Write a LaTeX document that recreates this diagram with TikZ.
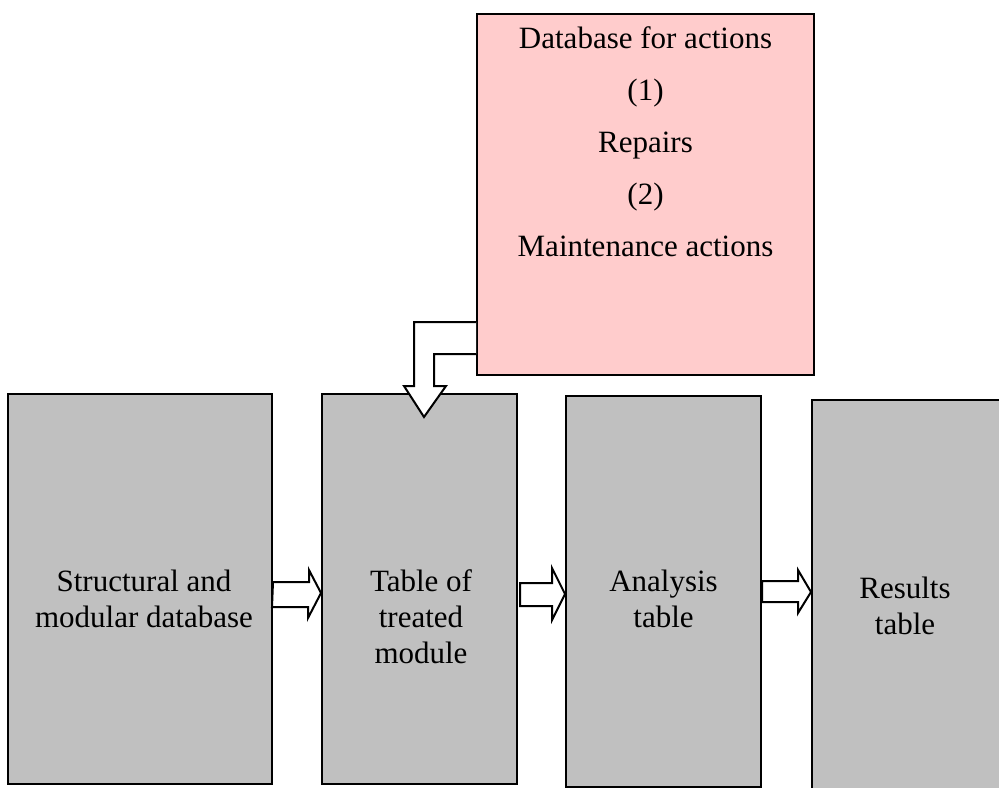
\documentclass[tikz,border=0pt]{standalone}
\usepackage{fontspec}
\setmainfont{Liberation Serif}
\usetikzlibrary{fit}
\definecolor{boxgray}{RGB}{192,192,192}
\definecolor{boxpink}{RGB}{255,204,204}
\tikzset{
  graybox/.style={draw=black, line width=1.5pt, fill=boxgray, inner sep=0pt, rectangle},
  pinkbox/.style={draw=black, line width=1.5pt, fill=boxpink, inner sep=0pt, rectangle},
  lbl/.style={align=center, inner sep=0pt, font=\fontsize{23.25pt}{27pt}\selectfont},
  blockarrow/.style={draw=black, line width=1.5pt, fill=white, line join=miter},
}
\begin{document}
\begin{tikzpicture}[x=0.75pt, y=-0.75pt]
\useasboundingbox (0,0) rectangle (999,788);
% pink box
\node[pinkbox, fit={(477,14) (814,375)}] (db) {};
\node[lbl, font=\fontsize{23.25pt}{39pt}\selectfont] (dbt) at (645.5,141.5) {Database for actions\\(1)\\Repairs\\(2)\\Maintenance actions};
% gray boxes
\node[graybox, fit={(8,394) (272,784)}] (b1) {};
\node[graybox, fit={(322,394) (517,784)}] (b2) {};
\node[graybox, fit={(566,396) (761,787)}] (b3) {};
\node[graybox, fit={(812,400) (1004,795)}] (b4) {};
\node[lbl] (t1) at (144,598.5) {Structural and\\modular database};
\node[lbl] (t2) at (421,616.5) {Table of\\treated\\module};
\node[lbl] (t3) at (663.5,598.5) {Analysis\\table};
\node[lbl] (t4) at (905,605.5) {Results\\table};
% coordinates for block arrows
\coordinate (a1s) at (b1.east |- 0,594.5);
% block arrows between gray boxes
\draw[blockarrow] (a1s) ++(0,-12.5) -- ++(36,0) -- ++(0,-12) -- (b2.west |- 0,593) -- (308,618) -- (308,607) -- ++(-36,0) -- cycle;
\draw[blockarrow] (520,583) -- (552,583) -- (552,568) -- (b3.west |- 0,594) -- (552,620) -- (552,606) -- (520,606) -- cycle;
\draw[blockarrow] (762,581) -- (798,581) -- (798,570) -- (b4.west |- 0,592) -- (798,613) -- (798,602) -- (762,602) -- cycle;
% L-shaped block arrow from pink box to table of treated module
\draw[blockarrow] (db.west |- 0,322) -- (414,322) -- (414,386) -- (404,386) -- (424,417) -- (446,386) -- (434,386) -- (434,354) -- (db.west |- 0,354);
\end{tikzpicture}
\end{document}
